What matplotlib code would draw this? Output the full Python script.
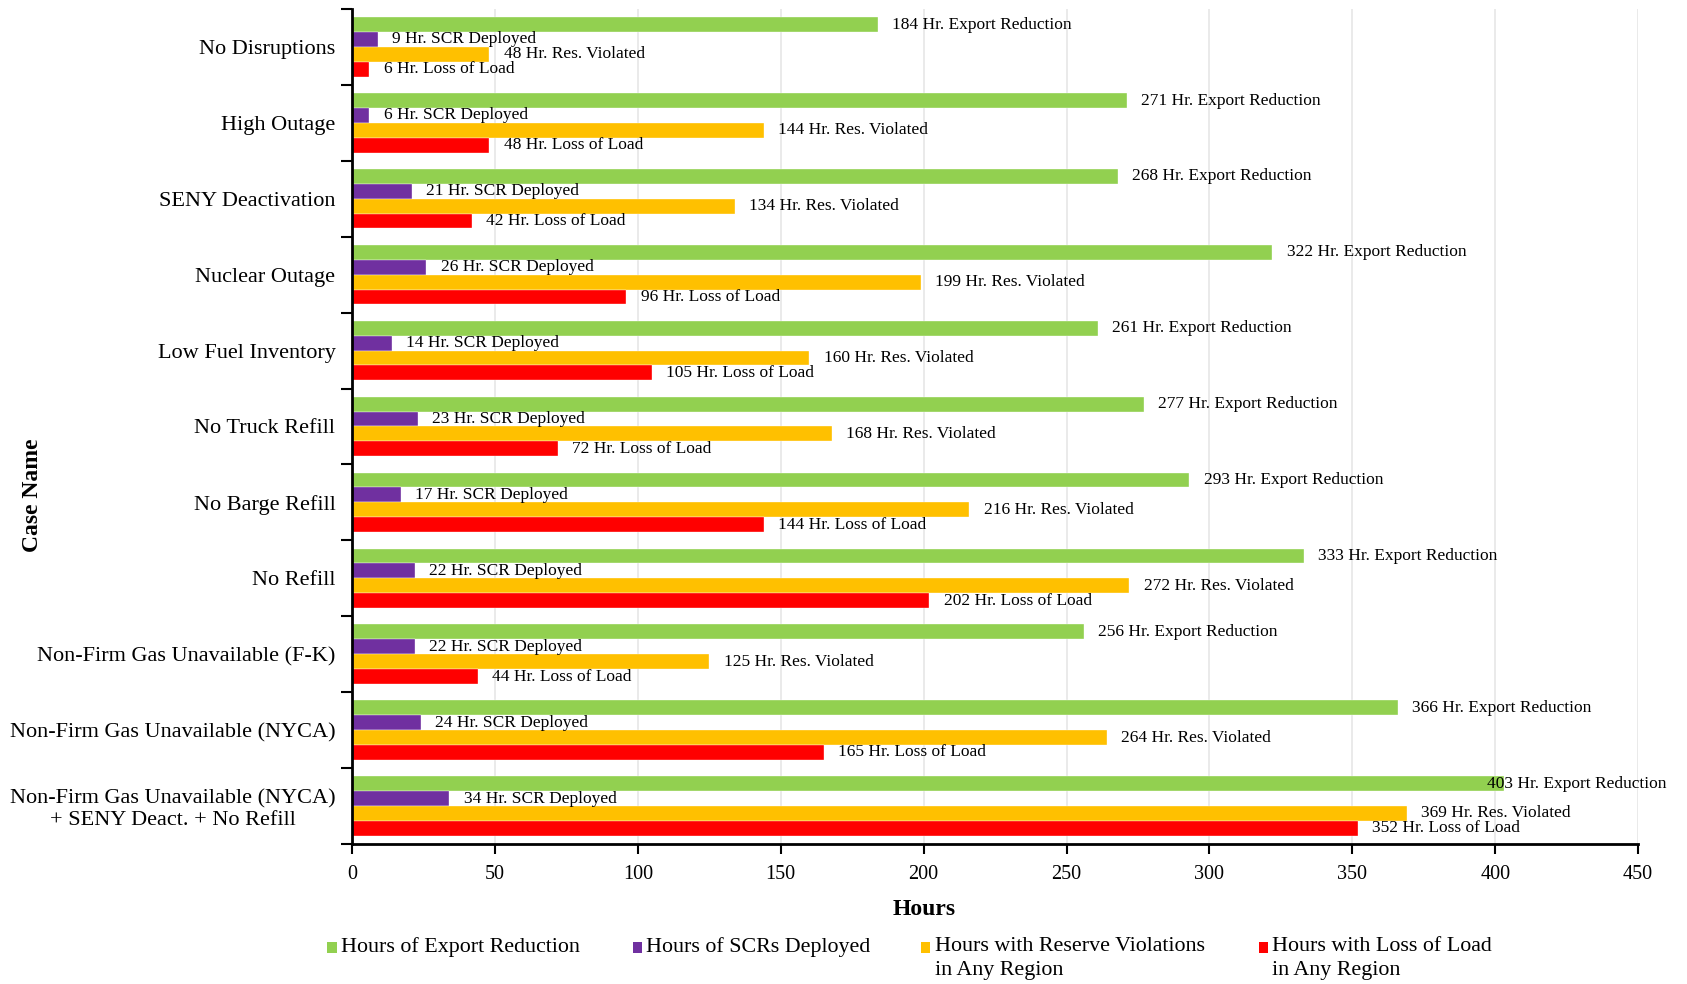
import matplotlib
matplotlib.use('Agg')
import matplotlib.pyplot as plt
from matplotlib.patches import Rectangle
import numpy as np

plt.rcParams['font.family'] = ['Liberation Serif', 'DejaVu Serif']

cases = ["No Disruptions", "High Outage", "SENY Deactivation", "Nuclear Outage",
         "Low Fuel Inventory", "No Truck Refill", "No Barge Refill", "No Refill",
         "Non-Firm Gas Unavailable (F-K)", "Non-Firm Gas Unavailable (NYCA)",
         "Non-Firm Gas Unavailable (NYCA)\n+ SENY Deact. + No Refill"]
export_red = [184, 271, 268, 322, 261, 277, 293, 333, 256, 366, 403]
scr_deployed = [9, 6, 21, 26, 14, 23, 17, 22, 22, 24, 34]
res_violated = [48, 144, 134, 199, 160, 168, 216, 272, 125, 264, 369]
loss_of_load = [6, 48, 42, 96, 105, 72, 144, 202, 44, 165, 352]

series = [
    (export_red, '#92D050', 'Hr. Export Reduction', 'Hours of Export Reduction'),
    (scr_deployed, '#7030A0', 'Hr. SCR Deployed', 'Hours of SCRs Deployed'),
    (res_violated, '#FFC000', 'Hr. Res. Violated', 'Hours with Reserve Violations\nin Any Region'),
    (loss_of_load, '#FF0000', 'Hr. Loss of Load', 'Hours with Loss of Load\nin Any Region'),
]

fig = plt.figure(figsize=(16.87, 9.84), dpi=100)
ax = fig.add_axes([0.2087, 0.1423, 0.7623, 0.8486])

y = np.arange(len(cases))
h = 0.196
offsets = np.array([-1.5, -0.5, 0.5, 1.5]) * h

for (vals, color, tag, _), off in zip(series, offsets):
    ax.barh(y + off, vals, height=h, color=color, edgecolor='white', linewidth=0.25, zorder=2)
    for yi, v in zip(y, vals):
        # keep the longest label inside the plot area
        xt = min(v + 5, 397)
        ax.text(xt, yi + off, f"{v} {tag}", va='center', ha='left', fontsize=12.5, zorder=3)

ax.set_xlim(0, 450)
ax.set_ylim(len(cases) - 0.5, -0.5)
ax.set_xticks(np.arange(0, 451, 50))
ax.tick_params(axis='x', labelsize=14.5, direction='out', length=7, width=1.5, pad=8)
ax.grid(axis='x', color='#E6E6E6', linewidth=1.2, zorder=0)

# category boundaries get the tick marks, names sit between them
ax.set_yticks(np.arange(-0.5, len(cases), 1))
ax.set_yticklabels([])
ax.set_yticks(y, minor=True)
ax.set_yticklabels(cases, minor=True, fontsize=16, ha='right', multialignment='center')
ax.tick_params(axis='y', which='major', direction='out', length=8, width=1.5)
ax.tick_params(axis='y', which='minor', length=0, pad=12)

for s in ['top', 'right']:
    ax.spines[s].set_visible(False)
for s in ['left', 'bottom']:
    ax.spines[s].set_linewidth(2)

fig.text(0.548, 0.076, 'Hours', ha='center', va='center', fontsize=17, fontweight='bold')
fig.text(0.019, 0.497, 'Case Name', ha='center', va='center', rotation=90, fontsize=17, fontweight='bold')

# legend drawn by hand so two-line entries keep the marker on the first line
leg_x = [0.194, 0.375, 0.546, 0.746]
for (vals, color, _, name), lx in zip(series, leg_x):
    fig.add_artist(Rectangle((lx, 0.032), 0.0055, 0.011, transform=fig.transFigure,
                             facecolor=color, edgecolor='none'))
    fig.text(lx + 0.008, 0.048, name, ha='left', va='top', fontsize=15.8, linespacing=1.35)

fig.savefig('out.png', dpi=100, facecolor='white')
